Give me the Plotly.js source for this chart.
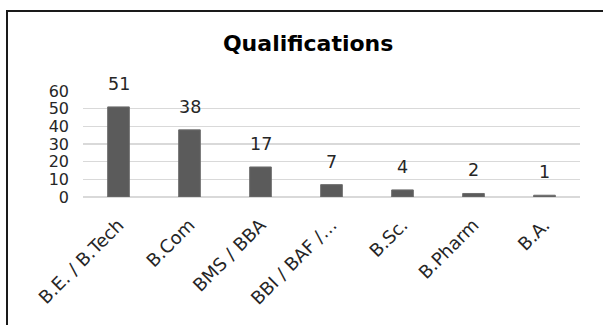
<!DOCTYPE html>
<html>
<head>
<meta charset="utf-8">
<script src="https://cdn.plot.ly/plotly-3.0.1.min.js"></script>
<style>
  html, body { margin: 0; padding: 0; background: #fff; overflow: hidden; }
  #frame { position: absolute; left: 6px; top: 10px; width: 700px; height: 400px;
           border-left: 2px solid #1a1a1a; border-top: 2px solid #1a1a1a; }
  #chart { position: absolute; left: 0; top: 0; width: 603px; height: 325px; }
</style>
</head>
<body>
<div id="frame"></div>
<div id="chart"></div>
<script>
// Number of people by degree
const categories = ["B.E. / B.Tech", "B.Com", "BMS / BBA", "BBI / BAF /…", "B.Sc.", "B.Pharm", "B.A."];
const counts = [51, 38, 17, 7, 4, 2, 1];
const yTicks = [0, 10, 20, 30, 40, 50, 60];

const font = "DejaVu Sans, Verdana, sans-serif";

const bars = {
  type: "bar",
  x: categories,
  y: counts,
  marker: { color: "#5b5b5b", line: { color: "#6e6e6e", width: 1 } },
  hoverinfo: "x+y"
};

// value labels above each bar
const labels = categories.map((c, i) => ({
  x: c, y: counts[i], xref: "x", yref: "y",
  text: String(counts[i]), showarrow: false,
  yanchor: "bottom", yshift: 11,
  font: { family: font, size: 17.5, color: "#262626" }
}));

const layout = {
  width: 603, height: 325,
  margin: { l: 83, r: 23, t: 90.5, b: 128.3 },
  paper_bgcolor: "rgba(0,0,0,0)",
  plot_bgcolor: "rgba(0,0,0,0)",
  bargap: 0.695,
  showlegend: false,
  title: {
    text: "<b>Qualifications</b>",
    font: { family: font, size: 22, color: "#000" },
    x: 0.511, xanchor: "center", y: 0.868, yanchor: "middle"
  },
  xaxis: {
    type: "category",
    tickangle: -45,
    tickfont: { family: font, size: 18, color: "#262626" },
    showgrid: false, showline: false, ticks: "",
    ticklabelstandoff: 13,
    fixedrange: true
  },
  yaxis: {
    range: [0, 60],
    tickvals: yTicks,
    ticktext: yTicks.map(String),
    tickfont: { family: font, size: 16, color: "#262626" },
    showgrid: true, gridcolor: "#d9d9d9", gridwidth: 1.4,
    zeroline: true, zerolinecolor: "#d9d9d9", zerolinewidth: 1.4,
    showline: false, ticks: "",
    ticklabelstandoff: 13,
    fixedrange: true
  },
  annotations: labels
};

Plotly.newPlot("chart", [bars], layout, { displayModeBar: false, staticPlot: true });
</script>
</body>
</html>
